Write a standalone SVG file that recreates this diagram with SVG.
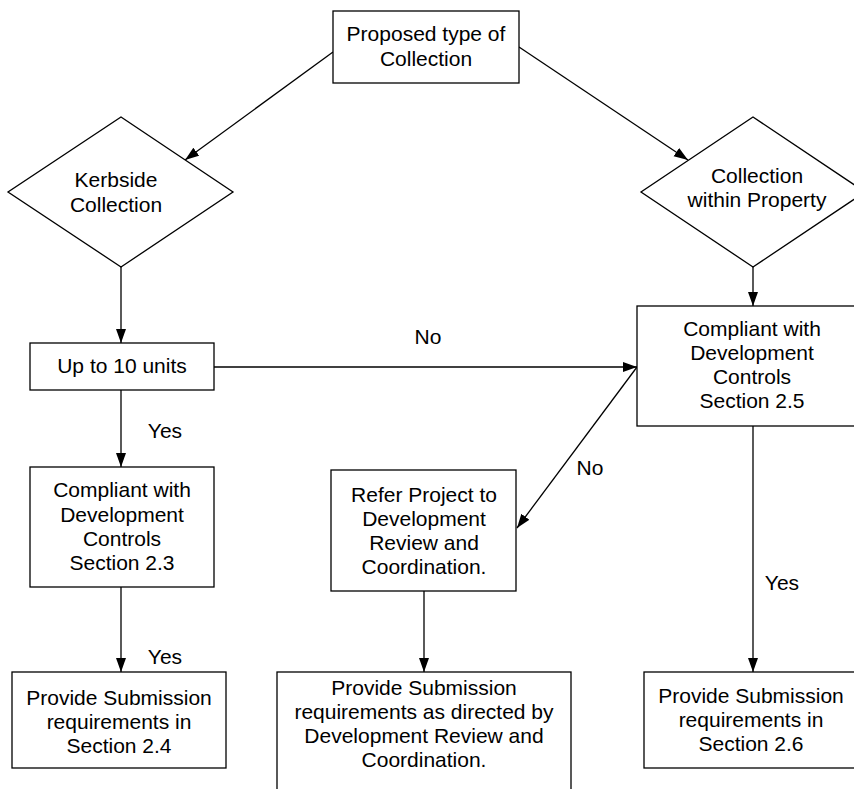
<svg xmlns="http://www.w3.org/2000/svg" width="854" height="789" viewBox="0 0 854 789">
<defs>
<marker id="arr" markerUnits="userSpaceOnUse" markerWidth="15" markerHeight="11" refX="14" refY="5" orient="auto">
<path d="M0,0 L14,5 L0,10 z" fill="#000"/>
</marker>
<style>
.box{fill:#fff;stroke:#000;stroke-width:1.3}
.t{font-family:"Liberation Sans",Arial,sans-serif;font-size:21px;text-anchor:middle;fill:#000}
.c{stroke:#000;stroke-width:1.3;fill:none;marker-end:url(#arr)}
</style>
</defs>
<rect width="854" height="789" fill="#fff"/>
<g id="connectors">
<line class="c" x1="333" y1="52" x2="185" y2="160"/>
<line class="c" x1="519" y1="47" x2="688" y2="160"/>
<line class="c" x1="121" y1="267" x2="121" y2="343"/>
<line class="c" x1="753" y1="267" x2="753" y2="306"/>
<line class="c" x1="214" y1="367" x2="637" y2="367"/>
<line class="c" x1="637" y1="367" x2="517" y2="528"/>
<line class="c" x1="121" y1="390" x2="121" y2="467"/>
<line class="c" x1="121" y1="587" x2="121" y2="672"/>
<line class="c" x1="424" y1="591" x2="424" y2="672"/>
<line class="c" x1="753" y1="426" x2="753" y2="672"/>
<text class="t" x="428" y="344">No</text>
<text class="t" x="590" y="475">No</text>
<text class="t" x="165" y="438">Yes</text>
<text class="t" x="165" y="664">Yes</text>
<text class="t" x="782" y="590">Yes</text>
</g>
<g id="proposed">
<rect class="box" x="333" y="11" width="186" height="72"/>
<text class="t" x="426" y="41">Proposed type of</text>
<text class="t" x="426" y="66">Collection</text>
</g>
<g id="kerbside">
<polygon class="box" points="121,117 233,192 121,267 8,192"/>
<text class="t" x="116" y="187">Kerbside</text>
<text class="t" x="116" y="212">Collection</text>
</g>
<g id="within">
<polygon class="box" points="753,117 865,192 753,267 641,192"/>
<text class="t" x="757" y="183">Collection</text>
<text class="t" x="757" y="207">within Property</text>
</g>
<g id="upto10">
<rect class="box" x="30" y="343" width="184" height="47"/>
<text class="t" x="122" y="373">Up to 10 units</text>
</g>
<g id="comp23">
<rect class="box" x="30" y="467" width="184" height="120"/>
<text class="t" x="122" y="497">Compliant with</text>
<text class="t" x="122" y="522">Development</text>
<text class="t" x="122" y="546">Controls</text>
<text class="t" x="122" y="570">Section 2.3</text>
</g>
<g id="comp25">
<rect class="box" x="637" y="306" width="240" height="120"/>
<text class="t" x="752" y="336">Compliant with</text>
<text class="t" x="752" y="360">Development</text>
<text class="t" x="752" y="384">Controls</text>
<text class="t" x="752" y="408">Section 2.5</text>
</g>
<g id="refer">
<rect class="box" x="331" y="470" width="185" height="121"/>
<text class="t" x="424" y="502">Refer Project to</text>
<text class="t" x="424" y="526">Development</text>
<text class="t" x="424" y="550">Review and</text>
<text class="t" x="424" y="574">Coordination.</text>
</g>
<g id="sub24">
<rect class="box" x="12" y="672" width="214" height="96"/>
<text class="t" x="119" y="705">Provide Submission</text>
<text class="t" x="119" y="729">requirements in</text>
<text class="t" x="119" y="753">Section 2.4</text>
</g>
<g id="subdr">
<rect class="box" x="277" y="672" width="294" height="130"/>
<text class="t" x="424" y="695">Provide Submission</text>
<text class="t" x="424" y="719">requirements as directed by</text>
<text class="t" x="424" y="743">Development Review and</text>
<text class="t" x="424" y="767">Coordination.</text>
</g>
<g id="sub26">
<rect class="box" x="644" y="672" width="230" height="96"/>
<text class="t" x="751" y="703">Provide Submission</text>
<text class="t" x="751" y="727">requirements in</text>
<text class="t" x="751" y="751">Section 2.6</text>
</g>
</svg>
